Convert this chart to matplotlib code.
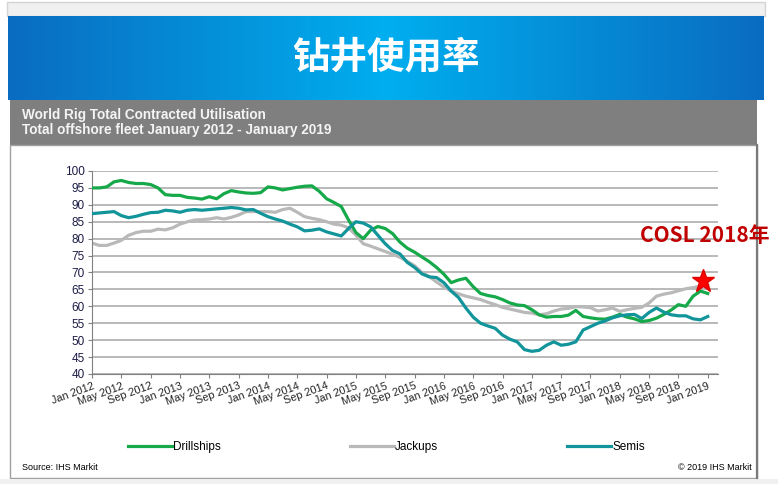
import numpy as np
import matplotlib.pyplot as plt
from matplotlib.patches import Rectangle
from matplotlib.colors import LinearSegmentedColormap

plt.rcParams['font.family'] = ['Liberation Sans', 'Noto Sans CJK SC', 'DejaVu Sans']

# monthly values, Jan 2012 .. Jan 2019
drillships = [95.0, 95.0, 95.3, 96.8, 97.2, 96.6, 96.3, 96.3, 96.0, 95.0,
              93.0, 92.8, 92.8, 92.2, 92.0, 91.7, 92.4, 91.8, 93.3, 94.2,
              93.8, 93.5, 93.4, 93.6, 95.3, 95.0, 94.4, 94.8, 95.2, 95.5,
              95.6, 94.0, 91.8, 90.7, 89.5, 85.5, 81.8, 80.0, 82.5, 83.6,
              83.0, 81.5, 79.0, 77.2, 76.0, 74.6, 73.2, 71.5, 69.5, 67.0,
              67.8, 68.3, 65.8, 63.8, 63.2, 62.8, 62.0, 61.0, 60.4, 60.2,
              59.0, 57.5, 56.8, 57.0, 57.0, 57.4, 58.8, 57.0, 56.6, 56.3,
              56.2, 56.8, 57.6, 56.8, 56.3, 55.5, 55.8, 56.5, 57.6, 58.9,
              60.5, 60.0, 63.0, 64.5, 63.8]
jackups = [78.7, 78.0, 78.0, 78.7, 79.5, 81.0, 81.8, 82.2, 82.2, 82.8,
           82.6, 83.2, 84.3, 85.0, 85.5, 85.6, 85.8, 86.2, 85.8, 86.3,
           87.0, 88.0, 88.0, 88.0, 88.0, 87.8, 88.6, 89.0, 87.8, 86.5,
           86.0, 85.6, 85.0, 84.3, 84.0, 83.2, 81.0, 78.5, 77.8, 77.0,
           76.2, 75.4, 74.5, 73.3, 72.0, 70.0, 68.8, 67.2, 65.7, 64.5,
           63.7, 63.0, 62.5, 62.0, 61.2, 60.5, 59.7, 59.2, 58.7, 58.2,
           58.0, 57.5, 57.8, 58.6, 59.2, 59.4, 59.9, 59.8, 59.6, 58.6,
           59.0, 59.5, 58.5, 59.0, 59.4, 59.7, 61.0, 63.0, 63.6, 64.0,
           64.6, 65.2, 65.5, 66.0, 66.4]
semis = [87.4, 87.6, 87.8, 88.0, 86.8, 86.2, 86.6, 87.2, 87.7, 87.8,
         88.4, 88.2, 87.8, 88.4, 88.6, 88.4, 88.6, 88.8, 89.0, 89.2,
         89.0, 88.5, 88.6, 87.5, 86.5, 85.8, 85.2, 84.3, 83.5, 82.3,
         82.5, 82.9, 82.0, 81.4, 80.8, 83.0, 85.0, 84.6, 83.5, 81.0,
         78.5, 76.5, 75.5, 73.0, 71.5, 69.6, 68.7, 68.5, 67.0, 64.5,
         62.6, 59.5, 56.8, 55.0, 54.2, 53.5, 51.5, 50.3, 49.5, 47.2,
         46.7, 47.0, 48.5, 49.5, 48.5, 48.8, 49.5, 53.0, 54.0, 55.0,
         55.7, 56.6, 57.2, 57.5, 57.6, 56.4, 58.2, 59.5, 58.3, 57.5,
         57.2, 57.2, 56.3, 56.0, 57.0]

tick_labels = ['Jan 2012', 'May 2012', 'Sep 2012', 'Jan 2013', 'May 2013', 'Sep 2013',
               'Jan 2014', 'May 2014', 'Sep 2014', 'Jan 2015', 'May 2015', 'Sep 2015',
               'Jan 2016', 'May 2016', 'Sep 2016', 'Jan 2017', 'May 2017', 'Sep 2017',
               'Jan 2018', 'May 2018', 'Sep 2018', 'Jan 2019']

star_month, star_value = 83.3, 67.5

months = np.arange(len(drillships))

fig = plt.figure(figsize=(7.78, 4.84), dpi=100)
fig.patch.set_facecolor('white')

# page background drawn in pixel coordinates
bg = fig.add_axes([0, 0, 1, 1], zorder=0)
bg.set_xlim(0, 778)
bg.set_ylim(484, 0)
bg.axis('off')

bg.add_patch(Rectangle((7, 2), 758, 14, facecolor='#f0f0f0', edgecolor='#d4d4d4', lw=1))
blue = LinearSegmentedColormap.from_list('banner', ['#0a6cc0', '#00aeef', '#0a6cc0'])
bg.imshow(np.linspace(0, 1, 256)[None, :], cmap=blue, aspect='auto',
          extent=(8, 764, 100, 16), zorder=1)
bg.text(386, 57, '钻井使用率', color='white', fontsize=27, fontweight='bold',
        family=['Noto Sans CJK SC'], ha='center', va='center', zorder=3)

bg.add_patch(Rectangle((10, 100), 747, 45, facecolor='#7f7f7f', edgecolor='none', zorder=2))
bg.text(22, 115, 'World Rig Total Contracted Utilisation', color='#f4f4f4',
        fontsize=9.8, fontweight='bold', va='center', zorder=3)
bg.text(22, 130, 'Total offshore fleet January 2012 - January 2019', color='#f4f4f4',
        fontsize=9.8, fontweight='bold', va='center', zorder=3)

bg.add_patch(Rectangle((10, 145), 747, 333, facecolor='white', edgecolor='#a0a0a0', lw=1, zorder=2))
bg.plot([757, 757], [145, 478], color='#7a7a7a', lw=1.6, zorder=3)
bg.add_patch(Rectangle((0, 479), 778, 6, facecolor='#f0f0f0', edgecolor='none', zorder=2))

bg.text(22, 468, 'Source: IHS Markit', fontsize=6.5, va='center', zorder=3)
bg.text(752, 468, '\u00a9 2019 IHS Markit', fontsize=6.5, va='center', ha='right', zorder=3)

# chart
ax = fig.add_axes([0.1183, 0.2273, 0.8046, 0.4194], zorder=1)
ax.set_facecolor('none')

ax.plot(months, drillships, color='#16a94a', lw=2.3, label='Drillships', zorder=3)
ax.plot(months, jackups, color='#b9b9b9', lw=2.3, label='Jackups', zorder=2)
ax.plot(months, semis, color='#11959a', lw=2.3, label='Semis', zorder=4)
ax.plot([star_month], [star_value], marker='*', markersize=17, color='#ff0000',
        mec='#e00000', ls='none', zorder=5, clip_on=False)

ax.set_xlim(0, 85.4)
ax.set_ylim(40, 100)
ax.set_yticks(np.arange(40, 101, 5))
ax.set_xticks(np.arange(0, 85, 4))
ax.set_xticklabels(tick_labels, rotation=20, ha='right', rotation_mode='anchor',
                   fontsize=7.8, color='#222222')
ax.tick_params(axis='y', labelsize=8.5, labelcolor='#1c1c48', length=3,
               color='#808080', pad=2)
ax.tick_params(axis='x', length=3, color='#808080', pad=2)
ax.grid(axis='y', color='#a6a6a6', lw=1.1)
ax.set_axisbelow(True)
for side in ['top', 'right']:
    ax.spines[side].set_visible(False)
for side in ['left', 'bottom']:
    ax.spines[side].set_color('#808080')

fig.legend(loc='center left', bbox_to_anchor=(128 / 778, 1 - 447 / 484), ncol=3,
           frameon=False, fontsize=8.5, handlelength=3.7, handletextpad=0.15,
           columnspacing=10.9, borderpad=0, borderaxespad=0)

fig.text(640 / 778, 1 - 236 / 484, 'COSL 2018年', color='#c00000', fontsize=15,
         fontweight='bold', family=['Noto Sans CJK SC'], ha='left', va='center', zorder=10)

fig.savefig('out.png', dpi=100)
